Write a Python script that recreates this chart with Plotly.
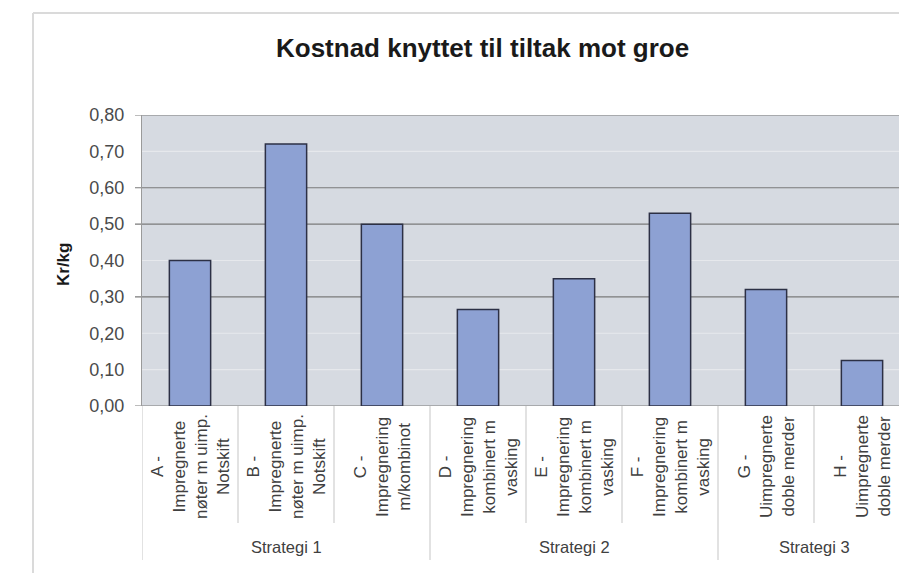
import plotly.graph_objects as go

# ---- data ----
categories = ["A", "B", "C", "D", "E", "F", "G", "H"]
labels = [
    "A -<br>Impregnerte<br>nøter m uimp.<br>Notskift",
    "B -<br>Impregnerte<br>nøter m uimp.<br>Notskift",
    "C -<br>Impregnering<br>m/kombinot",
    "D -<br>Impregnering<br>kombinert m<br>vasking",
    "E -<br>Impregnering<br>kombinert m<br>vasking",
    "F -<br>Impregnering<br>kombinert m<br>vasking",
    "G -<br>Uimpregnerte<br>doble merder",
    "H -<br>Uimpregnerte<br>doble merder",
]
values = [0.40, 0.72, 0.50, 0.265, 0.35, 0.53, 0.32, 0.125]
groups = ["Strategi 1", "Strategi 2", "Strategi 3"]
group_sizes = [3, 3, 2]
dark_grid = [0.30, 0.50, 0.60, 0.80]
light_grid = [0.10, 0.20, 0.40, 0.70]
y_ticks = [0.0, 0.1, 0.2, 0.3, 0.4, 0.5, 0.6, 0.7, 0.8]

W, H = 899, 573
L, R, T, B = 142, 0, 115, 167
pw, ph = W - L - R, H - T - B
px_x = lambda px: (px - L) / pw
px_y = lambda py: (H - B - py) / ph

FONT = "Liberation Sans, Arial, sans-serif"

fig = go.Figure()
fig.add_trace(go.Bar(
    x=categories, y=values, width=0.43,
    marker=dict(color="#8da1d3", line=dict(color="#2c3045", width=1.5)),
    hoverinfo="x+y",
))

shapes = []
for g in light_grid:
    shapes.append(dict(type="line", xref="paper", yref="y", x0=0, x1=1, y0=g, y1=g,
                       line=dict(color="#e6e8ec", width=1.2), layer="below"))
for g in dark_grid + [0.0]:
    shapes.append(dict(type="line", xref="paper", yref="y", x0=px_x(L - 7), x1=1, y0=g, y1=g,
                       line=dict(color="#7a7a7a", width=1.2), layer="below"))

# separators below the axis
acc = 0
group_bounds = [0]
for s in group_sizes:
    acc += s
    group_bounds.append(acc)
for i in range(len(categories) + 1):
    is_group = i in group_bounds
    shapes.append(dict(type="line", xref="x", yref="paper",
                       x0=i - 0.5, x1=i - 0.5, y0=0, y1=px_y(560 if is_group else 523),
                       line=dict(color="#cfcfcf", width=1.2), layer="above"))

# outer chart border (cropped)
shapes.append(dict(type="line", xref="paper", yref="paper", x0=px_x(33), x1=px_x(33),
                   y0=px_y(13), y1=px_y(600), line=dict(color="#dadada", width=2)))
shapes.append(dict(type="line", xref="paper", yref="paper", x0=px_x(33), x1=px_x(950),
                   y0=px_y(13), y1=px_y(13), line=dict(color="#dadada", width=2)))

annotations = []
for c, lab in zip(categories, labels):
    annotations.append(dict(x=c, y=px_y(467), xref="x", yref="paper", text=lab,
                            textangle=-90, showarrow=False, align="center",
                            xanchor="center", yanchor="middle",
                            font=dict(family=FONT, size=17, color="#404040")))
start = 0
for gname, s in zip(groups, group_sizes):
    center = start + (s - 1) / 2
    annotations.append(dict(x=center, y=px_y(547), xref="x", yref="paper", text=gname,
                            showarrow=False, xanchor="center", yanchor="middle",
                            font=dict(family=FONT, size=16.5, color="#404040")))
    start += s

annotations.append(dict(x=px_x(482), y=px_y(48), xref="paper", yref="paper",
                        text="<b>Kostnad knyttet til tiltak mot groe</b>", showarrow=False,
                        xanchor="center", yanchor="middle",
                        font=dict(family=FONT, size=26, color="#1a1a1a")))
annotations.append(dict(x=px_x(63), y=px_y(265), xref="paper", yref="paper",
                        text="<b>Kr/kg</b>", showarrow=False, textangle=-90,
                        xanchor="center", yanchor="middle",
                        font=dict(family=FONT, size=17, color="#1a1a1a")))

fig.update_layout(
    width=W, height=H,
    margin=dict(l=L, r=R, t=T, b=B, pad=0),
    paper_bgcolor="white",
    plot_bgcolor="#d6dae1",
    separators=", ",
    showlegend=False,
    shapes=shapes,
    annotations=annotations,
    xaxis=dict(range=[-0.5, -0.5 + pw / 96.0], showticklabels=False, showgrid=False,
               zeroline=False, showline=False, ticks="", fixedrange=True),
    yaxis=dict(range=[0, 0.8], tickvals=y_ticks, tickformat=".2f", showgrid=False,
               zeroline=False, showline=True, linecolor="#9a9a9a", linewidth=1.2,
               ticks="outside", ticklen=8, tickcolor="rgba(0,0,0,0)",
               ticklabelstandoff=5,
               tickfont=dict(family=FONT, size=18, color="#4a4a4a")),
    font=dict(family=FONT),
)

fig.write_html("out.html",
               config={"displayModeBar": False},
               post_script="document.body.style.margin='0';document.body.style.overflow='hidden';")
